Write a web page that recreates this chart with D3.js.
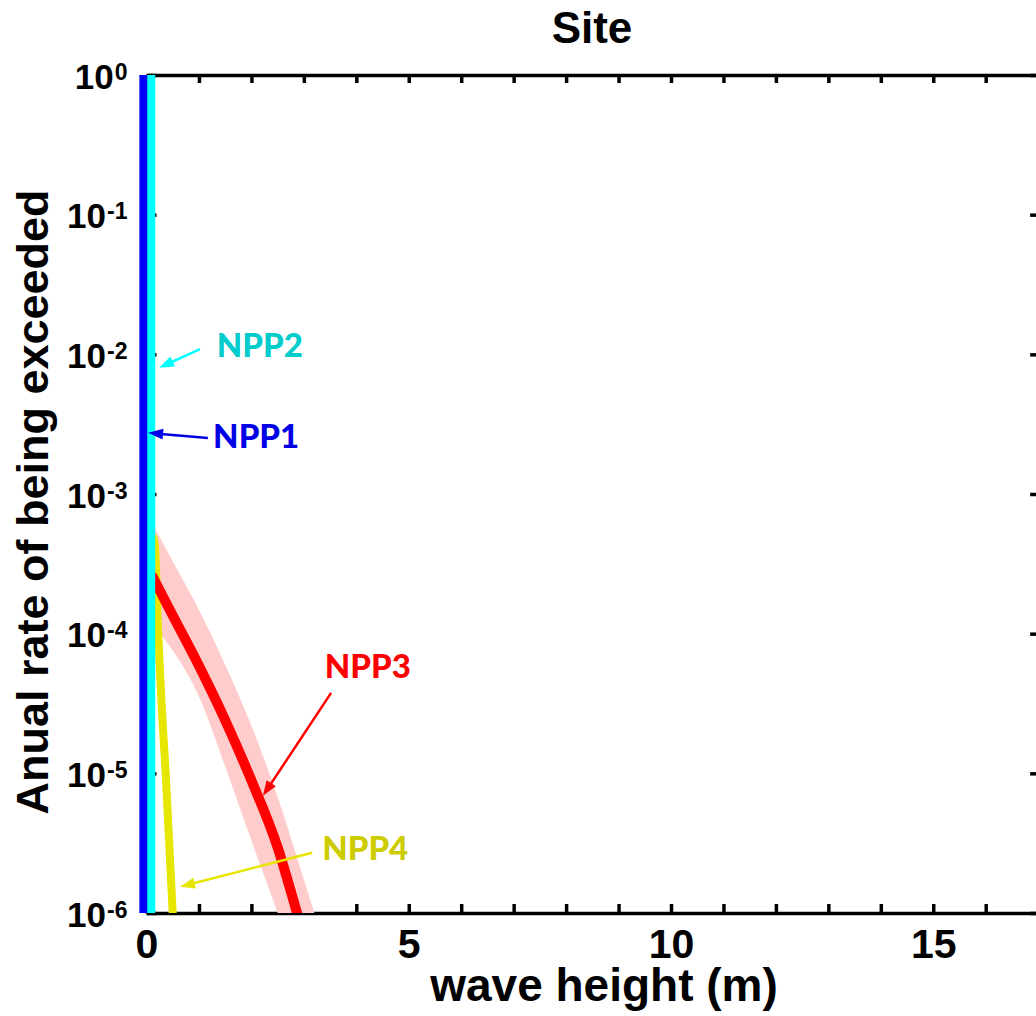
<!DOCTYPE html>
<html>
<head>
<meta charset="utf-8">
<script src="https://cdn.jsdelivr.net/npm/d3@7"></script>
<style>
  body { margin: 0; background: #fff; overflow: hidden; }
  svg { display: block; }
  .axis text { font-family: "Liberation Sans", Arial, sans-serif; font-weight: bold; fill: #000; }
  .axis path, .axis line { stroke: #000; stroke-width: 3.5; }
  .npp { font-family: Lato, "Open Sans", sans-serif; font-weight: 900; font-size: 33px; }
</style>
</head>
<body>
<script>
// wave height (m) and annual exceedance rate

// NPP1 / NPP2: vertical lines near zero wave height
var npp1X = [-0.06, -0.06];
var npp1Y = [1, 1e-6];
var npp2X = [0.09, 0.09];
var npp2Y = [1, 1e-6];

// NPP3 mean curve
var npp3X = [0.1, 0.5, 1.0, 1.5, 2.0, 2.5, 2.87, 3.0];
var npp3Y = [2.63e-4, 1.35e-4, 5.89e-5, 2.40e-5, 8.9e-6, 2.95e-6, 1.0e-6, 6.8e-7];

// NPP3 uncertainty band
var bandX = [0.1, 0.5, 1.0, 1.5, 2.0, 2.5, 3.0, 3.3];
var bandHi = [6.3e-4, 3.3e-4, 1.48e-4, 6.0e-5, 2.19e-5, 6.8e-6, 1.74e-6, 7.6e-7];
var bandLo = [1.17e-4, 7.6e-5, 3.55e-5, 1.12e-5, 3.3e-6, 1.0e-6, 2.8e-7, 1.26e-7];

// NPP4 curve
var npp4X = [0.12, 0.16, 0.22, 0.28, 0.37, 0.5, 0.53];
var npp4Y = [5.0e-4, 4.2e-4, 1.07e-4, 3.55e-5, 9.3e-6, 1.0e-6, 6.3e-7];

// axis ticks
var xTicks = d3.range(0, 18);
var xLabelled = [0, 5, 10, 15];
var yTicks = [1, 1e-1, 1e-2, 1e-3, 1e-4, 1e-5, 1e-6];
var yExponents = ["0", "-1", "-2", "-3", "-4", "-5", "-6"];

// annotations: label point, arrow start, arrow tip (data units)
var labels = ["NPP2", "NPP1", "NPP3", "NPP4"];
var labelX = [1.34, 1.27, 3.40, 3.35];
var labelY = [9.6e-3, 2.14e-3, 4.83e-5, 2.40e-6];
var arrowFromX = [1.02, 1.17, 3.52, 3.16];
var arrowFromY = [1.09e-2, 2.52e-3, 3.77e-5, 2.70e-6];
var arrowToX = [0.24, 0.03, 2.22, 0.64];
var arrowToY = [8.0e-3, 2.74e-3, 6.9e-6, 1.54e-6];
var textColors = ["#00cccc", "#0000e6", "#ff0000", "#cccc00"];
var arrowColors = ["#00ffff", "#0000e6", "#ff0000", "#e6e600"];

var W = 1036, H = 1016;
var margin = {left: 146.5, top: 75};
var w = 17 * 52.45, h = 838;

var svg = d3.select("body").append("svg")
    .attr("width", W)
    .attr("height", H);

var g = svg.append("g")
    .attr("transform", "translate(" + margin.left + "," + margin.top + ")");

var x = d3.scaleLinear().domain([0, 17]).range([0, w]);
var y = d3.scaleLog().domain([1e-6, 1]).range([h, 0]);

svg.append("defs").append("clipPath").attr("id", "plot")
    .append("rect").attr("x", -20).attr("y", 0).attr("width", w + 20).attr("height", h);

// axes first so the vertical lines sit on top of the left edge
var xBottom = d3.axisBottom(x).tickValues(xTicks)
    .tickSizeInner(-9).tickSizeOuter(0).tickPadding(16)
    .tickFormat(function(d) { return xLabelled.indexOf(d) >= 0 ? d : ""; });
var gxb = g.append("g").attr("class", "axis").attr("transform", "translate(0," + h + ")").call(xBottom);
gxb.selectAll("text").style("font-size", "41px");

var xTop = d3.axisTop(x).tickValues(xTicks)
    .tickSizeInner(-8).tickSizeOuter(0).tickFormat("");
g.append("g").attr("class", "axis").call(xTop);

var yLeft = d3.axisLeft(y).tickValues(yTicks)
    .tickSizeInner(-10).tickSizeOuter(0).tickPadding(19).tickFormat("");
var gyl = g.append("g").attr("class", "axis").call(yLeft);
gyl.selectAll(".tick text").each(function(d, i) {
    var t = d3.select(this).attr("dy", "0.38em").style("font-size", "35px");
    t.append("tspan").text("10");
    t.append("tspan").attr("dx", 1).attr("dy", "-0.4em").style("font-size", "23px").text(yExponents[i]);
});

var yRight = d3.axisRight(y).tickValues(yTicks)
    .tickSizeInner(-8).tickSizeOuter(0).tickFormat("");
g.append("g").attr("class", "axis").attr("transform", "translate(" + w + ",0)").call(yRight);

// data
var plot = g.append("g").attr("clip-path", "url(#plot)");

var bandData = bandX.map(function(d, i) { return {x: d, hi: bandHi[i], lo: bandLo[i]}; });
plot.append("path")
    .datum(bandData)
    .attr("fill", "#ffcccc")
    .attr("d", d3.area()
        .curve(d3.curveMonotoneX)
        .x(function(d) { return x(d.x); })
        .y0(function(d) { return y(d.lo); })
        .y1(function(d) { return y(d.hi); }));

var line = d3.line()
    .curve(d3.curveMonotoneX)
    .x(function(d) { return x(d[0]); })
    .y(function(d) { return y(d[1]); });

function series(xs, ys, color, width) {
    plot.append("path")
        .datum(d3.zip(xs, ys))
        .attr("fill", "none")
        .attr("stroke", color)
        .attr("stroke-width", width)
        .attr("d", line);
}

series(npp4X, npp4Y, "#e6e600", 8);
series(npp3X, npp3Y, "#ff0000", 10);
series(npp1X, npp1Y, "#0000ff", 8);
series(npp2X, npp2Y, "#00ffff", 8);

// annotations
var defs = svg.select("defs");
arrowColors.forEach(function(c, i) {
    defs.append("marker")
        .attr("id", "head" + i)
        .attr("markerUnits", "userSpaceOnUse")
        .attr("viewBox", "-16 -7 18 14")
        .attr("refX", 0).attr("refY", 0)
        .attr("markerWidth", 18).attr("markerHeight", 14)
        .attr("orient", "auto")
        .append("path")
        .attr("d", "M0,0L-15,-5.5L-15,5.5Z")
        .attr("fill", c);
});

labels.forEach(function(lab, i) {
    var x1 = x(arrowFromX[i]), y1 = y(arrowFromY[i]);
    var x2 = x(arrowToX[i]), y2 = y(arrowToY[i]);
    var len = Math.hypot(x2 - x1, y2 - y1);
    // stop the shaft just before the head
    var k = (len - 10) / len;
    g.append("line")
        .attr("x1", x1).attr("y1", y1)
        .attr("x2", x1 + (x2 - x1) * k).attr("y2", y1 + (y2 - y1) * k)
        .attr("stroke", arrowColors[i])
        .attr("stroke-width", 2.5);
    g.append("path")
        .attr("d", "M" + x1 + "," + y1 + "L" + x2 + "," + y2)
        .attr("stroke", "none")
        .attr("marker-end", "url(#head" + i + ")");
    g.append("text")
        .attr("class", "npp")
        .attr("x", x(labelX[i]))
        .attr("y", y(labelY[i]))
        .attr("fill", textColors[i])
        .text(lab);
});

// titles
svg.append("text")
    .attr("x", 592).attr("y", 43)
    .attr("text-anchor", "middle")
    .style("font-family", "Liberation Sans, Arial, sans-serif")
    .style("font-weight", "bold")
    .style("font-size", "44px")
    .text("Site");

svg.append("text")
    .attr("x", 604).attr("y", 1001)
    .attr("text-anchor", "middle")
    .style("font-family", "Liberation Sans, Arial, sans-serif")
    .style("font-weight", "bold")
    .style("font-size", "46px")
    .text("wave height (m)");

svg.append("text")
    .attr("transform", "rotate(-90)")
    .attr("x", -502).attr("y", 48)
    .attr("text-anchor", "middle")
    .style("font-family", "Liberation Sans, Arial, sans-serif")
    .style("font-weight", "bold")
    .style("font-size", "45px")
    .text("Anual rate of being exceeded");
</script>
</body>
</html>
